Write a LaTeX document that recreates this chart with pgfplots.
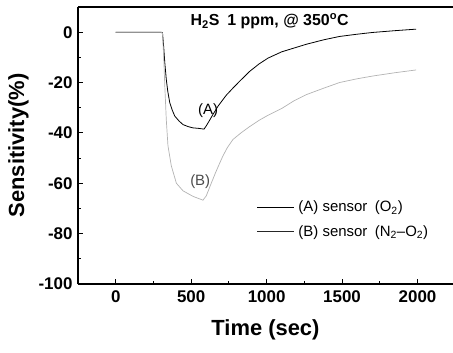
\documentclass[border=0pt]{standalone}
\usepackage{fontspec}
\setmainfont{Liberation Sans}
\usepackage{pgfplots}
\pgfplotsset{compat=1.18}
\begin{document}
\begin{tikzpicture}
\begin{axis}[
  scale only axis,
  width=375bp, height=277bp,
  xmin=-250, xmax=2235,
  ymin=-100, ymax=10,
  axis y line*=left,
  axis x line*=box,
  xtick pos=bottom,
  ytick pos=left,
  tick align=inside,
  xtick={0,500,1000,1500,2000},
  ytick={-100,-80,-60,-40,-20,0},
  minor x tick num=1,
  minor y tick num=1,
  major tick length=5bp,
  minor tick length=3bp,
  axis line style={line width=1.2pt},
  every tick/.style={line width=0.9pt, black},
  /pgf/number format/assume math mode=true,
  /pgf/number format/1000 sep={},
  ticklabel style={font=\fontsize{17}{19}\selectfont\bfseries},
  xticklabel style={yshift=-3bp},
  yticklabel style={xshift=-2bp},
  xlabel={Time (sec)},
  ylabel={Sensitivity(\%)},
  xlabel style={font=\fontsize{22}{26}\selectfont\bfseries, yshift=-10bp},
  ylabel style={font=\fontsize{22}{26}\selectfont\bfseries, yshift=3bp},
  clip=false,
  legend style={draw=none, fill=none, at={(0.468,0.315)}, anchor=north west,
    font=\fontsize{15}{17}\selectfont, row sep=8bp},
  legend cell align=left,
  legend image code/.code={\draw[#1] (0bp,0bp) -- (37bp,0bp);},
  legend style={nodes={inner xsep=4bp}},
]
\addplot[black, line width=0.8pt, forget plot] coordinates {
(0,0)(300,0)(310,-0.3)(318,-6)(325,-12)(335,-18.7)(345,-23.5)(358,-28)(375,-31)(391,-33.3)(420,-35.3)(446,-36.7)(480,-37.5)(512,-38)(550,-38.2)(585,-38.5)(600,-37.2)(620,-35.2)(644,-32.7)(680,-29.2)(733,-25)(780,-22)(821,-19.5)(887,-15.6)(950,-12.6)(1009,-10.3)(1100,-7.8)(1263,-4.8)(1380,-3)(1483,-1.7)(1600,-0.8)(1704,-0.1)(1850,0.6)(1990,1.2)
};
\addplot[gray!60, line width=0.7pt, forget plot] coordinates {
(0,0)(300,0)(310,-0.5)(318,-10)(325,-21)(335,-34.7)(346,-45)(368,-53)(402,-60)(446,-63)(512,-65.2)(578,-66.7)(600,-65)(633,-60)(660,-56)(689,-52)(710,-49.2)(740,-45.8)(777,-42.6)(830,-40)(887,-37.5)(950,-35)(1009,-33)(1100,-30.3)(1180,-27.3)(1263,-24.8)(1380,-22.2)(1483,-20)(1600,-18.5)(1704,-17.4)(1850,-16.1)(1990,-15)
};
\addlegendimage{black, line width=0.8pt}
\addlegendentry{(A) sensor\enspace(O\textsubscript{2})}
\addlegendimage{black!85, line width=0.8pt}
\addlegendentry{(B) sensor\enspace(N\textsubscript{2}--O\textsubscript{2})}
\node[font=\fontsize{15}{17}\selectfont] at (axis cs:612,-31) {(A)};
\node[font=\fontsize{15}{17}\selectfont, text=black!70] at (axis cs:560,-59.5) {(B)};
\node[font=\fontsize{16}{18}\selectfont\bfseries] at (axis cs:1020,4.3) {H\textsubscript{2}S\enspace 1 ppm, @ 350\textsuperscript{o}C};
\end{axis}
\pgfresetboundingbox
\path (current axis.south west) ++(-78bp,-69bp) rectangle (current axis.north east) ++(0bp,7bp);
\end{tikzpicture}
\end{document}
